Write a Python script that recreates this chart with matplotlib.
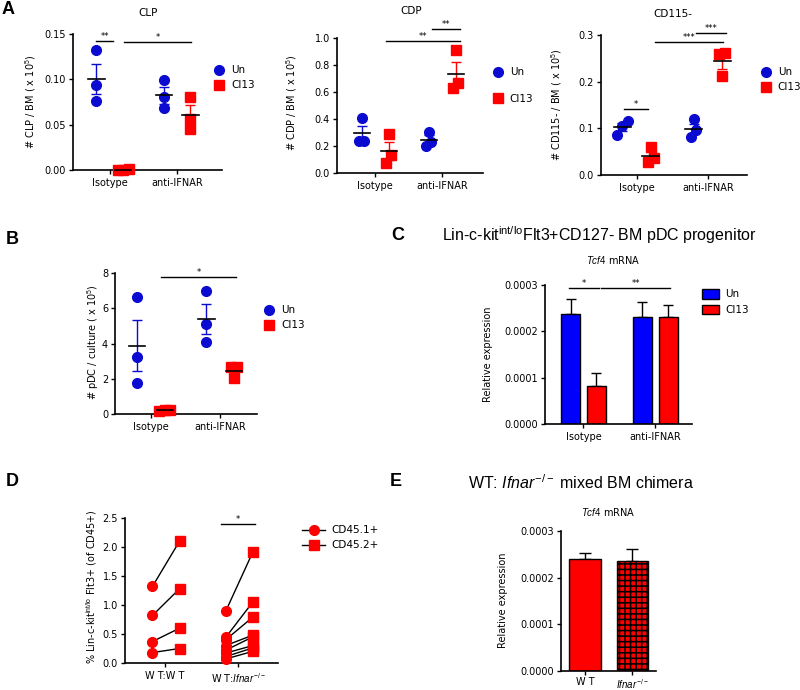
import numpy as np
import matplotlib
matplotlib.use('Agg')
import matplotlib.pyplot as plt
from matplotlib.lines import Line2D
from matplotlib.patches import Patch
from matplotlib.ticker import FormatStrFormatter

plt.rcParams['font.family'] = ['DejaVu Sans']
plt.rcParams['font.size'] = 7
plt.rcParams['hatch.linewidth'] = 1.1
plt.rcParams['mathtext.fontset'] = 'custom'
plt.rcParams['mathtext.rm'] = 'Liberation Sans'
plt.rcParams['mathtext.it'] = 'Liberation Sans:italic'

W, H = 800, 690
BLUE = '#0a0ad0'
RED = '#ff0000'

groups = ['Isotype', 'anti-IFNAR']

# A: per-mouse counts (x 10^5), [Isotype, anti-IFNAR]
clp_un = [[0.132, 0.094, 0.076], [0.099, 0.080, 0.068]]
clp_cl13 = [[0.001, 0.0, 0.0005], [0.081, 0.056, 0.045]]
cdp_un = [[0.405, 0.24, 0.24], [0.307, 0.20, 0.233]]
cdp_cl13 = [[0.29, 0.074, 0.13], [0.914, 0.627, 0.663]]
cd115_un = [[0.116, 0.086, 0.105], [0.119, 0.082, 0.096]]
cd115_cl13 = [[0.059, 0.027, 0.036], [0.261, 0.259, 0.212]]

# B: pDC per culture (x 10^5)
pdc_un = [[6.63, 3.22, 1.74], [7.0, 5.12, 4.1]]
pdc_cl13 = [[0.25, 0.15, 0.2], [2.64, 2.64, 2.03]]

# C: Tcf4 relative expression, mean and SEM
c_un = [0.000237, 0.000232]
c_un_err = [0.000033, 0.000032]
c_cl13 = [0.0000827, 0.000230]
c_cl13_err = [0.000027, 0.000027]

# D: paired CD45.1+ / CD45.2+ per chimera
d_groups = ['W T:W T', 'W T:$\\it{Ifnar}^{-/-}$']
d_cd451 = [[1.32, 0.82, 0.37, 0.18],
           [0.89, 0.44, 0.40, 0.30, 0.22, 0.17, 0.11, 0.07]]
d_cd452 = [[2.10, 1.28, 0.60, 0.25],
           [1.91, 1.05, 0.79, 0.48, 0.45, 0.30, 0.26, 0.20]]

# E: Tcf4 in mixed chimera
e_groups = ['W T', '$\\it{Ifnar}^{-/-}$']
e_vals = [0.000240, 0.000235]
e_err = [0.000013, 0.000027]

# significance bars: (x1, x2, y, label)
clp_sig = [(-0.2, 0.05, 0.142, '**'), (0.21, 1.21, 0.141, '*')]
cdp_sig = [(0.165, 1.265, 0.975, '**'), (0.85, 1.265, 1.07, '**')]
cd115_sig = [(-0.18, 0.16, 0.141, '*'), (0.26, 1.22, 0.284, '***'),
             (0.83, 1.25, 0.305, '***')]
pdc_sig = [(0.15, 1.23, 7.75, '*')]
c_sig = [(-0.2, 0.21, 0.000293, '*'), (0.25, 1.2, 0.000293, '**')]
d_sig = [(0.77, 1.23, 2.4, '*')]

fig = plt.figure(figsize=(W / 100, H / 100), dpi=100)


def px_axes(l, t, r, b):
    return fig.add_axes([l / W, 1 - b / H, (r - l) / W, (b - t) / H])


def fx(x):
    return x / W


def fy(y):
    return 1 - y / H


def style_axes(ax, xlim, ylim, yticks, fmt, xlabels, xpad=3):
    for s in ('top', 'right'):
        ax.spines[s].set_visible(False)
    for s in ('left', 'bottom'):
        ax.spines[s].set_linewidth(1.2)
    ax.set_xlim(*xlim)
    ax.set_ylim(*ylim)
    ax.set_yticks(yticks)
    ax.yaxis.set_major_formatter(FormatStrFormatter(fmt))
    ax.set_xticks([0, 1])
    ax.set_xticklabels(xlabels)
    ax.tick_params(length=3, width=1, labelsize=7, pad=2)
    ax.tick_params(axis='x', pad=xpad)


def add_sigs(ax, sigs):
    for x1, x2, y, txt in sigs:
        ax.plot([x1, x2], [y, y], color='black', lw=1, clip_on=False)
        ax.text((x1 + x2) / 2, y, txt, ha='center', va='bottom', fontsize=6,
                clip_on=False)


def sem(v):
    v = np.asarray(v, dtype=float)
    return v.std(ddof=1) / np.sqrt(len(v))


def spread(vals, tol, step=0.08):
    # push overlapping points sideways, like a column scatter
    vals = np.asarray(vals, dtype=float)
    order = np.argsort(vals)
    offs = np.zeros(len(vals))
    cluster = [order[0]]
    for i in order[1:]:
        if vals[i] - vals[cluster[-1]] < tol:
            cluster.append(i)
        else:
            k = len(cluster)
            offs[cluster] = (np.arange(k) - (k - 1) / 2) * step
            cluster = [i]
    k = len(cluster)
    offs[cluster] = (np.arange(k) - (k - 1) / 2) * step
    return offs


def dot_panel(ax, un, cl13, ytop, off=0.2):
    for g in range(len(un)):
        for vals, dx, col, mk in ((un[g], -off, BLUE, 'o'),
                                  (cl13[g], off, RED, 's')):
            x0 = g + dx
            ax.plot(x0 + spread(vals, 0.07 * ytop), vals, ls='none',
                    marker=mk, color=col, ms=7, clip_on=False, zorder=3)
            m = np.mean(vals)
            ax.errorbar(x0, m, yerr=sem(vals), color=col, capsize=3.5,
                        lw=1, capthick=1, zorder=4, clip_on=False)
            ax.plot([x0 - 0.12, x0 + 0.12], [m, m], color='black', lw=1.2,
                    zorder=5, clip_on=False)


def dot_legend(ax, x, y, dy=15):
    h = [Line2D([], [], ls='none', marker='o', color=BLUE, ms=7),
         Line2D([], [], ls='none', marker='s', color=RED, ms=7)]
    ax.legend(h, ['Un', 'Cl13'], loc='upper left',
              bbox_to_anchor=(fx(x), fy(y)), bbox_transform=fig.transFigure,
              frameon=False, borderpad=0, handlelength=1, handletextpad=0.6,
              labelspacing=(dy - 10) / 10, fontsize=7.5)


# ---- A ----
ax = px_axes(73, 34, 222, 170)
dot_panel(ax, clp_un, clp_cl13, 0.15)
style_axes(ax, (-0.55, 1.67), (0, 0.15), [0, 0.05, 0.10, 0.15], '%.2f', groups)
add_sigs(ax, clp_sig)
dot_legend(ax, 209, 60)
fig.text(fx(148), fy(13), 'CLP', ha='center', va='center', fontsize=7.5)
fig.text(fx(31), fy(102), '# CLP / BM ( x 10$^5$)', rotation=90,
         ha='center', va='center', fontsize=7)

ax = px_axes(337, 38, 483, 173)
dot_panel(ax, cdp_un, cdp_cl13, 1.0)
style_axes(ax, (-0.57, 1.61), (0, 1.0), [0, 0.2, 0.4, 0.6, 0.8, 1.0], '%.1f',
           groups)
add_sigs(ax, cdp_sig)
dot_legend(ax, 488, 62, dy=26)
fig.text(fx(411), fy(11), 'CDP', ha='center', va='center', fontsize=7.5)
fig.text(fx(292), fy(103), '# CDP / BM ( x 10$^5$)', rotation=90,
         ha='center', va='center', fontsize=7)

ax = px_axes(601, 35, 747, 175)
dot_panel(ax, cd115_un, cd115_cl13, 0.3)
style_axes(ax, (-0.5, 1.55), (0, 0.3), [0, 0.1, 0.2, 0.3], '%.1f', groups)
add_sigs(ax, cd115_sig)
dot_legend(ax, 756, 62)
fig.text(fx(673), fy(14), 'CD115-', ha='center', va='center', fontsize=7.5)
fig.text(fx(557), fy(105), '# CD115- / BM ( x 10$^5$)', rotation=90,
         ha='center', va='center', fontsize=7)

# ---- B ----
ax = px_axes(115, 273, 257, 414)
dot_panel(ax, pdc_un, pdc_cl13, 8)
style_axes(ax, (-0.52, 1.53), (0, 8), [0, 2, 4, 6, 8], '%d', groups)
add_sigs(ax, pdc_sig)
dot_legend(ax, 259, 300)
fig.text(fx(93), fy(342), '# pDC / culture ( x 10$^5$)', rotation=90,
         ha='center', va='center', fontsize=7)

# ---- C ----
ax = px_axes(545, 285, 692, 424)
bw = 0.265
for g in range(2):
    ax.bar(g - 0.18, c_un[g], width=bw, color='#0000ff', edgecolor='black',
           lw=1, zorder=2)
    ax.bar(g + 0.18, c_cl13[g], width=bw, color=RED, edgecolor='black',
           lw=1, zorder=2)
    ax.errorbar([g - 0.18, g + 0.18], [c_un[g], c_cl13[g]],
                yerr=[[0, 0], [c_un_err[g], c_cl13_err[g]]], fmt='none',
                ecolor='black', capsize=3.5, lw=1, capthick=1, zorder=1)
style_axes(ax, (-0.535, 1.51), (0, 0.0003),
           [0, 0.0001, 0.0002, 0.0003], '%.4f', groups)
add_sigs(ax, c_sig)
ax.legend([Patch(facecolor='#0000ff', edgecolor='black'),
           Patch(facecolor=RED, edgecolor='black')], ['Un', 'Cl13'],
          loc='upper left', bbox_to_anchor=(fx(697), fy(284)),
          bbox_transform=fig.transFigure, frameon=False, borderpad=0,
          handlelength=1.6, handleheight=1.0, handletextpad=0.6,
          labelspacing=0.5, fontsize=7.5)
fig.text(fx(488), fy(354), 'Relative expression', rotation=90,
         ha='center', va='center', fontsize=7)
fig.text(fx(442), fy(235),
         'Lin-c-kit$^{\\mathrm{int/lo}}$Flt3+CD127- BM pDC progenitor',
         ha='left', va='center', fontsize=11.5, family='Liberation Sans')
fig.text(fx(613), fy(260), '$\\it{Tcf4}$ mRNA', ha='center', va='center',
         fontsize=7)

# ---- D ----
ax = px_axes(125, 518, 278, 663)
for g in range(2):
    for a, b in zip(d_cd451[g], d_cd452[g]):
        ax.plot([g - 0.17, g + 0.2], [a, b], color='black', lw=1, zorder=2,
                clip_on=False)
    ax.plot([g - 0.17] * len(d_cd451[g]), d_cd451[g], ls='none', marker='o',
            color=RED, ms=7, zorder=3, clip_on=False)
    ax.plot([g + 0.2] * len(d_cd452[g]), d_cd452[g], ls='none', marker='s',
            color=RED, ms=7, zorder=3, clip_on=False)
style_axes(ax, (-0.545, 1.545), (0, 2.5), [0, 0.5, 1.0, 1.5, 2.0, 2.5],
           '%.1f', d_groups)
add_sigs(ax, d_sig)
ax.legend([Line2D([], [], color='black', lw=1, marker='o', mfc=RED, mec=RED,
                  ms=7),
           Line2D([], [], color='black', lw=1, marker='s', mfc=RED, mec=RED,
                  ms=7)], ['CD45.1+', 'CD45.2+'],
          loc='upper left', bbox_to_anchor=(fx(297), fy(520)),
          bbox_transform=fig.transFigure, frameon=False, borderpad=0,
          handlelength=2.2, handletextpad=0.6, labelspacing=0.5, fontsize=7.5)
fig.text(fx(92), fy(587), '% Lin-c-kit$^{\\mathrm{int/lo}}$ Flt3+ (of CD45+)',
         rotation=90, ha='center', va='center', fontsize=7)

# ---- E ----
ax = px_axes(561, 531, 656, 671)
bars = ax.bar([0, 1], e_vals, width=0.67, color=RED, edgecolor='black',
              lw=1, zorder=2)
bars[1].set_hatch('+++')
ax.errorbar([0, 1], e_vals, yerr=[[0, 0], e_err], fmt='none', ecolor='black',
            capsize=4.5, lw=1, capthick=1, zorder=1)
style_axes(ax, (-0.51, 1.5), (0, 0.0003), [0, 0.0001, 0.0002, 0.0003],
           '%.4f', e_groups, xpad=1.5)
fig.text(fx(503), fy(600), 'Relative expression', rotation=90,
         ha='center', va='center', fontsize=7)
fig.text(fx(468), fy(483), 'WT: $\\it{Ifnar}^{\\mathrm{-/-}}$ mixed BM chimera',
         ha='left', va='center', fontsize=11.5, family='Liberation Sans')
fig.text(fx(608), fy(512), '$\\it{Tcf4}$ mRNA', ha='center', va='center',
         fontsize=7)

# panel letters
for lab, x, y in (('A', 8, 10), ('B', 12, 240), ('C', 398, 236),
                  ('D', 12, 481), ('E', 396, 481)):
    fig.text(fx(x), fy(y), lab, ha='center', va='center', fontsize=13,
             fontweight='bold', family='Liberation Sans')

fig.savefig('out.png', dpi=100)
